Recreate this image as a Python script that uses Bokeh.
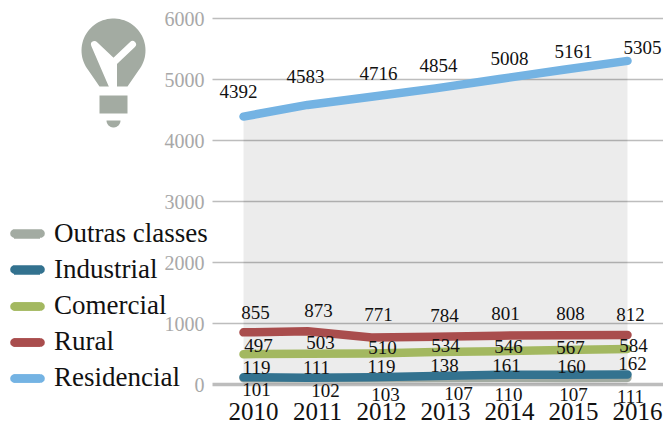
import numpy as np
from bokeh.plotting import figure
from bokeh.models import FixedTicker, Legend, LegendItem, PolyAnnotation, ColumnDataSource, LinearAxis, Range1d
from bokeh.core.properties import value
from bokeh.embed import file_html
from bokeh.resources import INLINE

years = [2010, 2011, 2012, 2013, 2014, 2015, 2016]
residencial = [4392, 4583, 4716, 4854, 5008, 5161, 5305]
rural = [855, 873, 771, 784, 801, 808, 812]
comercial = [497, 503, 510, 534, 546, 567, 584]
industrial = [119, 111, 119, 138, 161, 160, 162]
outras = [101, 102, 103, 107, 110, 107, 111]
y_ticks = [0, 1000, 2000, 3000, 4000, 5000, 6000]

FONT = "Liberation Serif"
W, H = 663, 423
PX_X = 64.0      # pixels per year
PX_Y = 0.061     # pixels per unit
X0, Y0 = 243, 384  # pixel of 2010 / of zero

x_start = 2010 - X0 / PX_X
x_end = x_start + W / PX_X
y_start = -(H - Y0) / PX_Y

p = figure(width=W, height=H, output_backend="svg", toolbar_location=None,
           x_axis_location=None, y_axis_location=None,
           x_range=(x_start, x_end),
           y_range=(y_start, y_start + H / PX_Y),
           min_border_left=0, min_border_right=0, min_border_top=0, min_border_bottom=0)
p.outline_line_color = None
p.grid.visible = False

axis_x = x_start + 212 / PX_X
axis_y = y_start + (H - 400) / PX_Y

yax = LinearAxis(ticker=FixedTicker(ticks=y_ticks), fixed_location=axis_x)
yax.axis_line_color = None
yax.major_tick_line_color = None
yax.minor_tick_line_color = None
yax.major_tick_out = 0
yax.major_tick_in = 0
yax.major_label_standoff = 8
yax.major_label_text_font = FONT
yax.major_label_text_font_size = "20px"
yax.major_label_text_color = "#a8a8a8"
p.add_layout(yax, "left")

# the year labels sit about 10px to the right of their points
label_shift = 10 / PX_X
p.extra_x_ranges["years"] = Range1d(x_start - label_shift, x_end - label_shift)
xax = LinearAxis(ticker=FixedTicker(ticks=years), fixed_location=axis_y, x_range_name="years")
xax.axis_line_color = None
xax.major_tick_line_color = None
xax.minor_tick_line_color = None
xax.major_tick_out = 0
xax.major_tick_in = 0
xax.major_label_standoff = 2
xax.major_label_text_font = FONT
xax.major_label_text_font_size = "25px"
xax.major_label_text_color = "#111111"
p.add_layout(xax, "below")

p.segment(x0=[axis_x] * len(y_ticks), x1=[x_end] * len(y_ticks), y0=y_ticks, y1=y_ticks,
          line_color="#bdbdbd", line_width=[3.5 if t == 0 else 1.3 for t in y_ticks])

p.varea(x=years, y1=[0] * len(years), y2=residencial, fill_color="#000000", fill_alpha=0.075)

series = [
    ("Outras classes", outras, "#a3aba2",
     [13, 18, 14, 23, 9, 10, 3], [11, 12, 16, 16, 17, 17, 19]),
    ("Residencial", residencial, "#74b3e3",
     [-5, -2, 7, 3, 10, 10, 15], [-25, -28, -23, -23, -21, -18, -13]),
    ("Rural", rural, "#a94d4d",
     [12, 11, 7, 9, 6, 7, 3], [-20, -21, -23, -21, -22, -22, -20]),
    ("Comercial", comercial, "#a3b860",
     [15, 13, 11, 10, 9, 7, 6], [-9, -11, -6, -6, -5, -2, -3]),
    ("Industrial", industrial, "#33728f",
     [13, 9, 10, 9, 7, 8, 5], [-10, -10, -11, -11, -9, -8, -11]),
]

renderers = {}
for name, vals, color, dx, dy in series:
    renderers[name] = p.line(years, vals, line_color=color, line_width=8.5,
                             line_cap="round", line_join="round")

for name, vals, color, dx, dy in series:
    src = ColumnDataSource(dict(x=years, y=vals, t=[str(v) for v in vals], dx=dx, dy=dy))
    p.text(x="x", y="y", text="t", x_offset="dx", y_offset="dy", source=src,
           text_font=value(FONT), text_font_size="19px", text_color="#111111",
           text_align="center", text_baseline="middle")

legend_order = ["Outras classes", "Industrial", "Comercial", "Rural", "Residencial"]
legend = Legend(items=[LegendItem(label=n, renderers=[renderers[n]]) for n in legend_order],
                location=(14, 30), margin=0, padding=0, spacing=5,
                glyph_width=26, glyph_height=24, label_height=24, label_standoff=14,
                label_text_font=FONT, label_text_font_size="27px", label_text_color="#111111",
                background_fill_alpha=0, border_line_alpha=0)
p.add_layout(legend, "center")

def shape(xs, ys, fill, line=None, lw=0):
    p.add_layout(PolyAnnotation(xs=[float(v) for v in xs], ys=[float(H - v) for v in ys],
                                xs_units="screen", ys_units="screen",
                                fill_color=fill, fill_alpha=1,
                                line_color=line, line_width=lw, line_alpha=1,
                                line_join="round", line_cap="round", editable=False))

# rounded ends of the legend swatches
colors = {s[0]: s[2] for s in series}
t = np.linspace(-np.pi / 2, np.pi / 2, 12)
for name, yc in zip(legend_order, [233, 269, 306, 342, 378]):
    shape(list(40 + 4.3 * np.cos(t)) + list(14 - 4.3 * np.cos(t[::-1])),
          list(yc + 4.3 * np.sin(t)) + list(yc + 4.3 * np.sin(t[::-1])), colors[name])

# lightbulb icon (decoration, in canvas pixels)
BULB = "#a3aba2"
cx, cy, r = 113, 50, 32
a0 = np.arctan2(20, -25)
a1 = np.arctan2(20, 25) + 2 * np.pi
angs = np.linspace(a0, a1, 60)
shape(list(cx + r * np.cos(angs)) + [127, 99], list(cy + r * np.sin(angs)) + [86, 86], BULB)
shape([94, 113, 113, 113, 132, 113, 113], [44, 62, 88, 62, 44, 62, 88], "#ffffff", "#ffffff", 7)
shape([99, 127, 127, 99], [95, 95, 113, 113], BULB)
angs2 = np.linspace(0, np.pi, 20)
shape(113 + 7 * np.cos(angs2), 120 + 7 * np.sin(angs2), BULB)

open("out.html", "w").write(file_html(p, INLINE))
